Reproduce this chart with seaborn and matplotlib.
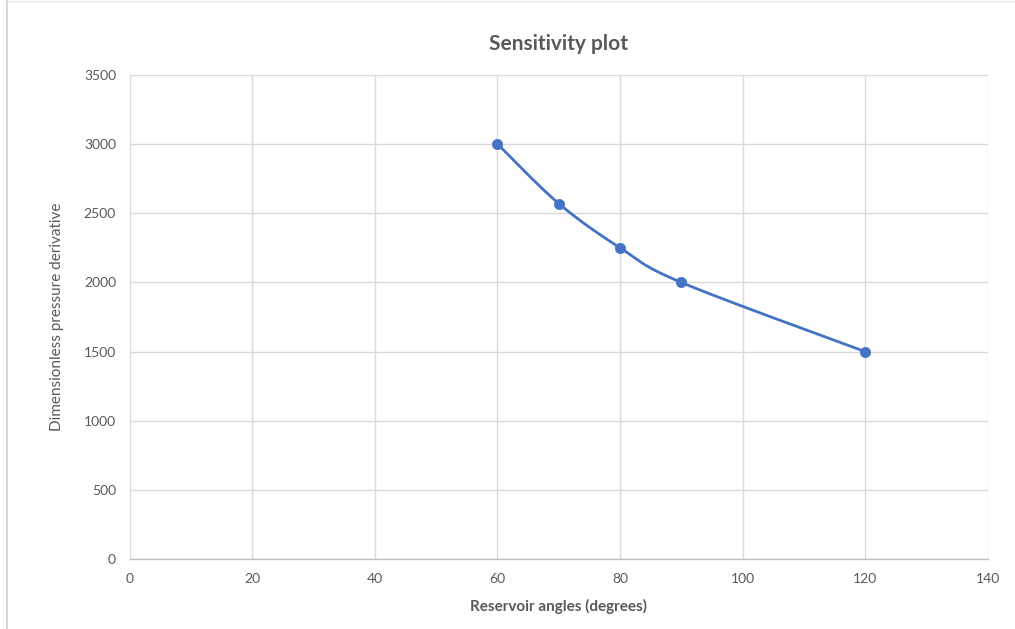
import numpy as np
import matplotlib
matplotlib.use("Agg")
import matplotlib.pyplot as plt
import seaborn as sns
import pandas as pd

angles = [60, 70, 80, 90, 120]
derivative = [3000, 2570, 2250, 2000, 1500]
x_ticks = [0, 20, 40, 60, 80, 100, 120, 140]
y_ticks = [0, 500, 1000, 1500, 2000, 2500, 3000, 3500]

title = "Sensitivity plot"
xlabel = "Reservoir angles (degrees)"
ylabel = "Dimensionless pressure derivative"

sns.set_theme(style="white")
plt.rcParams['font.family'] = ['Lato', 'DejaVu Sans']

df = pd.DataFrame({"angle": angles, "deriv": derivative})


def smooth(xs, ys, n=40):
    # Excel-style smoothed line (Bezier through points, Catmull-Rom tangents)
    P = np.column_stack([xs, ys]).astype(float)
    out = []
    for i in range(len(P) - 1):
        p0 = P[i - 1] if i > 0 else P[i]
        p1 = P[i]
        p2 = P[i + 1]
        p3 = P[i + 2] if i + 2 < len(P) else P[i + 1]
        c1 = p1 + (p2 - p0) / 6.0
        c2 = p2 - (p3 - p1) / 6.0
        t = np.linspace(0, 1, n)[:, None]
        seg = ((1 - t) ** 3) * p1 + 3 * ((1 - t) ** 2) * t * c1 + 3 * (1 - t) * t ** 2 * c2 + t ** 3 * p2
        out.append(seg if i == 0 else seg[1:])
    S = np.vstack(out)
    return S[:, 0], S[:, 1]


fig = plt.figure(figsize=(10.15, 6.29), dpi=100)
ax = fig.add_axes([0.128, 0.111, 0.845, 0.77])

color = "#4472C4"
sx, sy = smooth(df["angle"].values, df["deriv"].values)
sns.lineplot(x=sx, y=sy, ax=ax, color=color, linewidth=2, sort=False, zorder=3)
sns.scatterplot(data=df, x="angle", y="deriv", ax=ax, color=color, s=55,
                edgecolor=color, linewidth=0.5, zorder=4)

ax.set_xlim(0, 140)
ax.set_ylim(0, 3500)
ax.set_xticks(x_ticks)
ax.set_yticks(y_ticks)
ax.set_xticklabels([str(v) for v in x_ticks])
ax.set_yticklabels([str(v) for v in y_ticks])
ax.grid(True, color="#d9d9d9", linewidth=1)
ax.set_axisbelow(True)
for s in ["top", "right", "left"]:
    ax.spines[s].set_visible(False)
ax.spines["bottom"].set_color("#bfbfbf")
ax.spines["bottom"].set_linewidth(1)
ax.tick_params(axis="both", length=0, labelsize=10, colors="#595959", pad=10)

ax.set_title(title, fontsize=15, fontweight="bold", color="#595959", pad=18)
ax.set_xlabel(xlabel, fontsize=11, fontweight="bold", color="#595959", labelpad=10)
ax.set_ylabel(ylabel, fontsize=11, color="#595959", labelpad=14)

# chart frame lines (left edge and top)
fig.add_artist(plt.Line2D([0.007, 0.007], [0.0, 1.0], color="#d0d0d0", linewidth=1.2))
fig.add_artist(plt.Line2D([0.007, 1.0], [0.999, 0.999], color="#e6e6e6", linewidth=1))

fig.savefig("out.png", dpi=100, facecolor="white")
